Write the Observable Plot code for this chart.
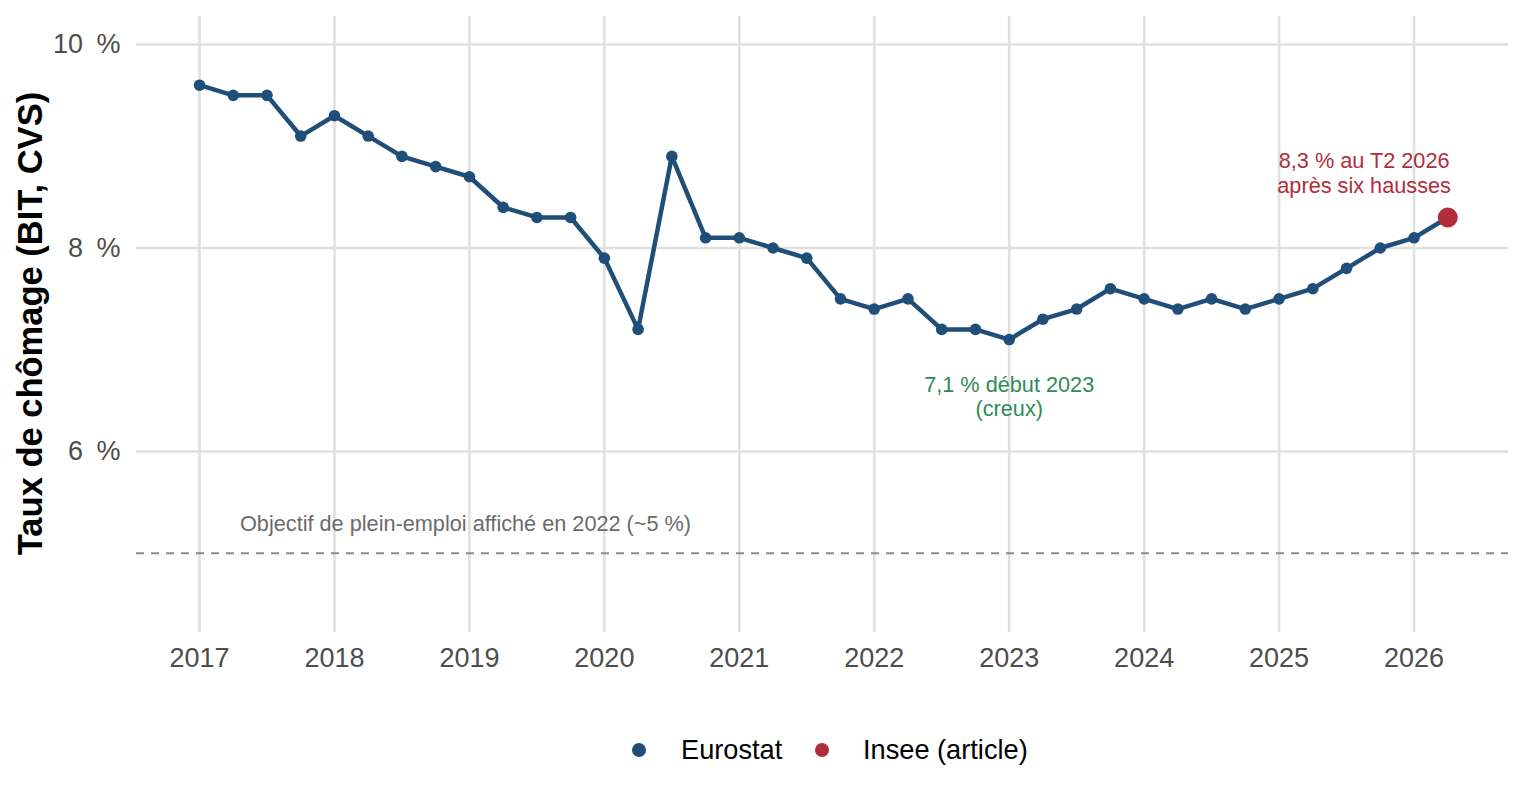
<!DOCTYPE html>
<html>
<head>
<meta charset="utf-8">
<script src="https://cdn.jsdelivr.net/npm/d3@7"></script>
<script src="https://cdn.jsdelivr.net/npm/@observablehq/plot@0.6"></script>
<style>
  body { margin: 0; background: #fff; font-family: "Liberation Sans", Arial, sans-serif; }
  #wrap { position: relative; width: 1536px; height: 806px; overflow: hidden; }
  #legend { position: absolute; left: 0; top: 732px; width: 1536px; height: 36px; }
  .key { position: absolute; top: 0; font-size: 27.2px; line-height: 36px; color: #000; white-space: nowrap; }
  .dot { position: absolute; top: 11px; width: 14px; height: 14px; border-radius: 50%; }
</style>
</head>
<body>
<div id="wrap">
  <div id="chart"></div>
  <div id="legend"></div>
</div>
<script>
// ---- Data ----
const quarters = [
  "2017T1","2017T2","2017T3","2017T4",
  "2018T1","2018T2","2018T3","2018T4",
  "2019T1","2019T2","2019T3","2019T4",
  "2020T1","2020T2","2020T3","2020T4",
  "2021T1","2021T2","2021T3","2021T4",
  "2022T1","2022T2","2022T3","2022T4",
  "2023T1","2023T2","2023T3","2023T4",
  "2024T1","2024T2","2024T3","2024T4",
  "2025T1","2025T2","2025T3","2025T4",
  "2026T1"
];
const eurostatRates = [
  9.6, 9.5, 9.5, 9.1,
  9.3, 9.1, 8.9, 8.8,
  8.7, 8.4, 8.3, 8.3,
  7.9, 7.2, 8.9, 8.1,
  8.1, 8.0, 7.9, 7.5,
  7.4, 7.5, 7.2, 7.2,
  7.1, 7.3, 7.4, 7.6,
  7.5, 7.4, 7.5, 7.4,
  7.5, 7.6, 7.8, 8.0,
  8.1
];
const inseeQuarters = ["2026T2"];
const inseeRates = [8.3];
const seriesNames = ["Eurostat", "Insee (article)"];
const seriesColors = ["#1f4e79", "#b22d3b"];
const xTickYears = [2017, 2018, 2019, 2020, 2021, 2022, 2023, 2024, 2025, 2026];
const yTickValues = [6, 8, 10];
const targetRate = 5;
const yTitle = "Taux de chômage (BIT, CVS)";
const noteTarget = "Objectif de plein-emploi affiché en 2022 (~5 %)";
const noteTrough = "7,1 % début 2023\n(creux)";
const noteLast = "8,3 % au T2 2026\naprès six hausses";

// ---- Build tables ----
const toYear = q => +q.slice(0, 4) + (+q.slice(5) - 1) / 4;
const euro = quarters.map((q, i) => ({ t: toYear(q), v: eurostatRates[i] }));
const insee = inseeQuarters.map((q, i) => ({ t: toYear(q), v: inseeRates[i] }));
const lineData = euro.concat(insee);

const FONT = '"Liberation Sans", Arial, sans-serif';

const chart = Plot.plot({
  width: 1536,
  height: 700,
  marginTop: 16,
  marginBottom: 68,
  marginLeft: 136,
  marginRight: 28,
  style: { fontFamily: FONT, color: "#4d4d4d", background: "#fff", overflow: "visible" },
  x: { domain: [2016.533, 2026.70], axis: null },
  y: { domain: [4.221, 10.275], axis: null },
  marks: [
    Plot.gridX(xTickYears, { stroke: "#e0e0e0", strokeOpacity: 1, strokeWidth: 2.6 }),
    Plot.gridY(yTickValues, { stroke: "#e0e0e0", strokeOpacity: 1, strokeWidth: 2.6 }),
    Plot.axisX(xTickYears, { tickSize: 0, tickPadding: 15, fontSize: 27, tickFormat: d => String(d), fill: "#4d4d4d", label: null }),
    Plot.axisY(yTickValues, { tickSize: 0, tickPadding: 16, fontSize: 27, tickFormat: d => `${d}\u2002%`, fill: "#4d4d4d", label: null }),
    Plot.ruleY([targetRate], { stroke: "#8c8c8c", strokeWidth: 2, strokeDasharray: "8,7" }),
    Plot.text([noteTarget], { x: 2017.30, y: 5.29, textAnchor: "start", fontSize: 21.7, fill: "#6b6b6b" }),
    Plot.line(lineData, { x: "t", y: "v", stroke: seriesColors[0], strokeWidth: 4.5, strokeLinejoin: "round" }),
    Plot.dot(euro, { x: "t", y: "v", r: 5.8, fill: seriesColors[0] }),
    Plot.dot(insee, { x: "t", y: "v", r: 10, fill: seriesColors[1] }),
    Plot.text([noteTrough], { x: 2023.0, y: 6.54, fontSize: 21.7, lineHeight: 1.12, fill: "#2e8b57" }),
    Plot.text([noteLast], { x: 2025.63, y: 8.74, fontSize: 21.7, lineHeight: 1.12, fill: seriesColors[1] }),
    Plot.text([yTitle], { frameAnchor: "left", textAnchor: "middle", rotate: -90, dx: -106, dy: -1, fontSize: 34.5, fontWeight: "bold", fill: "#000" })
  ]
});
document.getElementById("chart").appendChild(chart);

// ---- Legend ----
const legend = document.getElementById("legend");
const legendLayout = [{ dot: 639, text: 681 }, { dot: 822, text: 863 }];
seriesNames.forEach((name, i) => {
  const d = document.createElement("span");
  d.className = "dot";
  d.style.left = (legendLayout[i].dot - 7) + "px";
  d.style.background = seriesColors[i];
  legend.appendChild(d);
  const s = document.createElement("span");
  s.className = "key";
  s.style.left = legendLayout[i].text + "px";
  s.textContent = name;
  legend.appendChild(s);
});
</script>
</body>
</html>
